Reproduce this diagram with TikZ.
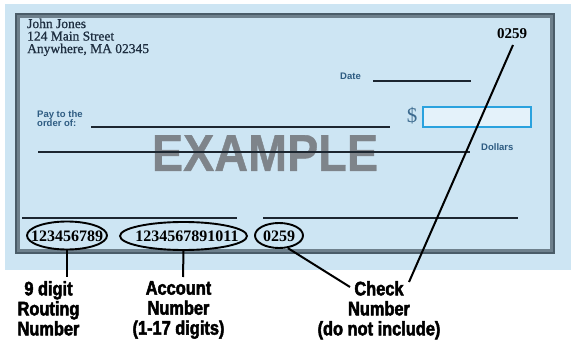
\documentclass[tikz,border=0pt]{standalone}
\usepackage{fontspec}
\setmainfont{Liberation Serif}
\newfontfamily\labelfont[FakeStretch=0.84, FakeBold=2.4, UprightFont={* Bold}]{Liberation Sans}
\newfontfamily\examplefont[FakeStretch=0.9, FakeBold=0.8, UprightFont={* Bold}]{Liberation Sans}
\newfontfamily\smallsans[UprightFont={* Bold}]{Liberation Sans}
\newfontfamily\addrfont[FakeBold=0.8]{Liberation Serif}
\newfontfamily\micrfont[UprightFont={* Bold}]{Liberation Serif}
\usetikzlibrary{shapes.geometric}
\definecolor{chkbg}{HTML}{CDE5F3}
\definecolor{framegray}{HTML}{6E808C}
\definecolor{framedark}{HTML}{4A5C68}
\definecolor{addrc}{HTML}{1E2E40}
\definecolor{smallc}{HTML}{2E5C82}
\definecolor{linec}{HTML}{1C2630}
\definecolor{exgray}{HTML}{7E848A}
\definecolor{dollarc}{HTML}{3C6A8E}
\definecolor{boxblue}{HTML}{2AA2DE}
\definecolor{boxfill}{HTML}{E4F2FA}
\tikzset{
  smalllbl/.style={font=\smallsans\fontsize{9.5}{9}\selectfont, text=smallc, inner sep=0},
  chkline/.style={draw=linec, line width=1.8},
  micr/.style={font=\micrfont\fontsize{16}{16}\selectfont, text=black, inner sep=0},
  ring/.style={ellipse, draw=black, line width=1.9, inner sep=0},
  callout/.style={font=\labelfont\fontsize{19.5}{20}\selectfont, align=center, inner sep=0, text=black},
  lead/.style={draw=black, line width=2}
}
\begin{document}
\begin{tikzpicture}[x=1pt,y=-1pt]
\useasboundingbox (0,0) rectangle (571,345);
\fill[white] (0,0) rectangle (571,345);
\fill[chkbg] (5,4) rectangle (571,270);
% frame
\draw[framegray, line width=4.5] (18,16) rectangle (552,251);
\draw[framedark, line width=1.5] (16,14) rectangle (554,253);
% address
\node[anchor=north west, align=left, font=\addrfont\fontsize{13.5}{12.5}\selectfont, text=addrc, inner sep=0] (addr) at (27,18.5) {John Jones\\124 Main Street\\Anywhere, MA 02345};
% check number top
\node[font=\micrfont\fontsize{15}{15}\selectfont, inner sep=0, anchor=base] (topnum) at (512,39) {0259};
% date
\node[smalllbl, anchor=base east] (date) at (361,80) {Date};
\draw[chkline] (373,81) -- (471,81);
% pay to
\node[smalllbl, anchor=north west, align=left, font=\smallsans\fontsize{9.5}{8.5}\selectfont] (pay) at (37,110) {Pay to the\\order of:};
% EXAMPLE
\node[font=\examplefont\fontsize{52}{52}\selectfont, text=exgray, inner sep=0, anchor=base] (example) at (265,171) {EXAMPLE};
\draw[chkline] (91,127) -- (390,127);
\draw[chkline] (38,152) -- (470,152);
% dollar
\node[font=\fontsize{21}{21}\selectfont, text=dollarc, inner sep=0, anchor=base] (dollar) at (412,122) {\$};
\draw[boxblue, line width=1.4, fill=boxfill] (423,107) rectangle (531,127);
\node[smalllbl, anchor=base west] (dollars) at (481,150) {Dollars};
% MICR line
\draw[chkline] (22,218) -- (237,218);
\draw[chkline] (263,218) -- (518,218);
% MICR numbers
\node[micr] (routing) at (67,236) {123456789};
\node[micr] (account) at (187,236) {1234567891011};
\node[micr] (checknum) at (279,236) {0259};
\node[ring, minimum width=80, minimum height=28] (routingring) at (67,235.5) {};
\node[ring, minimum width=127, minimum height=28] (accountring) at (183.5,236) {};
\node[ring, minimum width=48, minimum height=25] (checkring) at (279,235.5) {};
% callouts
\node[callout, anchor=north] (rlabel) at (48.5,281) {9 digit\\Routing\\Number};
\node[callout, anchor=north] (alabel) at (178.5,281) {Account\\Number\\(1-17 digits)};
\node[callout, anchor=north] (clabel) at (379,281) {Check\\Number\\(do not include)};
\coordinate (rend) at (67,277);
\coordinate (aend) at (183,277);
\coordinate (cend) at (350,287);
\coordinate (tend) at (409,282);
\coordinate (tstart) at (513,45);
\draw[lead] (routingring.south) -- (rend);
\draw[lead] (accountring.south) -- (aend);
\draw[lead] (checkring.-55) -- (cend);
\draw[lead] (tstart) -- (tend);
\end{tikzpicture}
\end{document}
